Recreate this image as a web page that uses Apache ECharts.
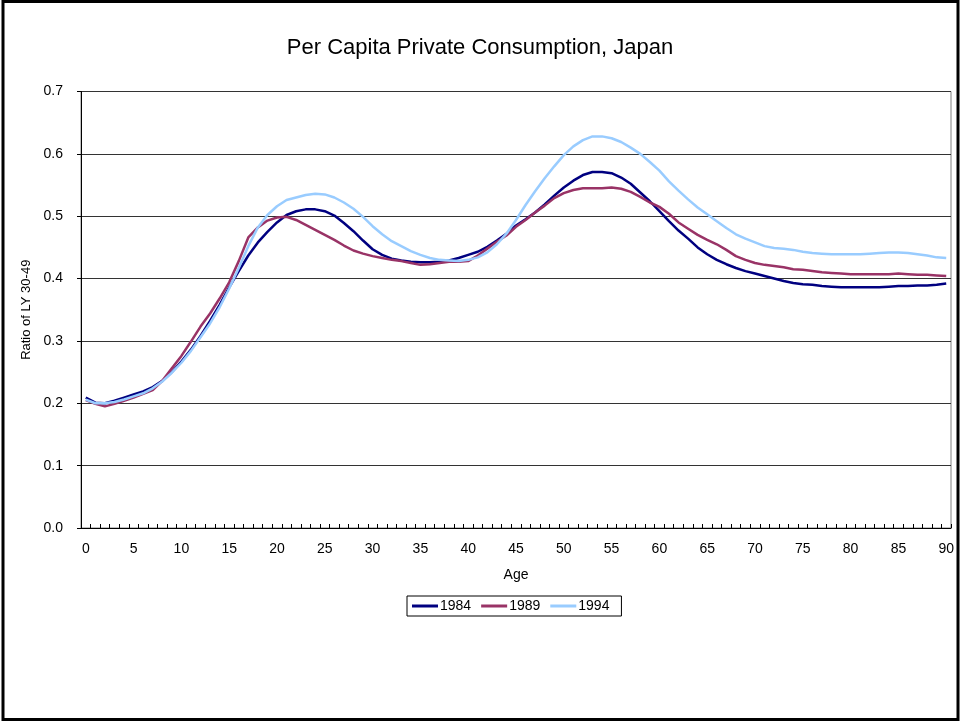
<!DOCTYPE html>
<html>
<head>
<meta charset="utf-8">
<script src="https://cdn.jsdelivr.net/npm/echarts@6/dist/echarts.min.js"></script>
<style>
  html, body { margin: 0; padding: 0; background: #fff; }
  #chart { width: 960px; height: 721px; }
</style>
</head>
<body>
<div id="chart"></div>
<script>
// Ages 0..90
const ages = Array.from({ length: 91 }, (_, i) => String(i));

// Per capita private consumption relative to the 30-49 age band
const y1984 = [
  0.209, 0.201, 0.200, 0.204, 0.209, 0.214, 0.219, 0.226, 0.236, 0.250,
  0.267, 0.286, 0.308, 0.332, 0.358, 0.386, 0.412, 0.437, 0.458, 0.475,
  0.490, 0.502, 0.508, 0.511, 0.511, 0.508, 0.501, 0.489, 0.476, 0.461,
  0.447, 0.438, 0.432, 0.429, 0.427, 0.426, 0.426, 0.427, 0.429, 0.433,
  0.438, 0.443, 0.451, 0.461, 0.472, 0.485, 0.495, 0.506, 0.519, 0.533,
  0.546, 0.557, 0.566, 0.571, 0.571, 0.569, 0.562, 0.552, 0.538, 0.524,
  0.508, 0.492, 0.477, 0.464, 0.450, 0.439, 0.430, 0.423, 0.417, 0.412,
  0.408, 0.404, 0.400, 0.396, 0.393, 0.391, 0.390, 0.388, 0.387, 0.386,
  0.386, 0.386, 0.386, 0.386, 0.387, 0.388, 0.388, 0.389, 0.389, 0.390,
  0.392
];
const y1989 = [
  0.205, 0.199, 0.195, 0.199, 0.204, 0.209, 0.215, 0.221, 0.236, 0.256,
  0.276, 0.299, 0.323, 0.344, 0.368, 0.394, 0.428, 0.466, 0.482, 0.493,
  0.498, 0.499, 0.494, 0.486, 0.478, 0.470, 0.462, 0.453, 0.445, 0.440,
  0.436, 0.433, 0.430, 0.428, 0.425, 0.422, 0.423, 0.425, 0.427, 0.427,
  0.428, 0.437, 0.448, 0.459, 0.469, 0.483, 0.494, 0.506, 0.517, 0.529,
  0.537, 0.542, 0.545, 0.545, 0.545, 0.546, 0.544, 0.539, 0.531, 0.522,
  0.515, 0.504, 0.490, 0.480, 0.470, 0.462, 0.455, 0.446, 0.436, 0.430,
  0.425, 0.422, 0.420, 0.418, 0.415, 0.414, 0.412, 0.410, 0.409, 0.408,
  0.407, 0.407, 0.407, 0.407, 0.407, 0.408, 0.407, 0.406, 0.406, 0.405,
  0.404
];
const y1994 = [
  0.206, 0.200, 0.200, 0.202, 0.206, 0.211, 0.216, 0.224, 0.235, 0.249,
  0.265, 0.284, 0.306, 0.328, 0.354, 0.384, 0.417, 0.452, 0.482, 0.502,
  0.516, 0.526, 0.530, 0.534, 0.536, 0.535, 0.530, 0.522, 0.512, 0.499,
  0.484, 0.471, 0.460, 0.452, 0.444, 0.438, 0.433, 0.430, 0.429, 0.428,
  0.430, 0.434, 0.442, 0.455, 0.472, 0.494, 0.518, 0.540, 0.561, 0.580,
  0.598, 0.612, 0.622, 0.628, 0.628, 0.625, 0.619, 0.610, 0.600, 0.587,
  0.573, 0.556, 0.541, 0.527, 0.514, 0.503, 0.492, 0.481, 0.471, 0.464,
  0.458, 0.452, 0.449, 0.448, 0.446, 0.443, 0.441, 0.440, 0.439, 0.439,
  0.439, 0.439, 0.440, 0.441, 0.442, 0.442, 0.441, 0.439, 0.437, 0.434,
  0.433
];

const seriesNames = ['1984', '1989', '1994'];
const seriesColors = ['#000080', '#993366', '#99CCFF'];
const seriesData = [y1984, y1989, y1994];

const FONT = 'Liberation Sans, Arial, sans-serif';
const chart = echarts.init(document.getElementById('chart'), null, { renderer: 'canvas' });

chart.setOption({
  animation: false,
  backgroundColor: '#ffffff',
  textStyle: { fontFamily: FONT, color: '#000' },
  title: {
    text: 'Per Capita Private Consumption, Japan',
    left: 'center',
    top: 32,
    textStyle: { fontFamily: FONT, fontSize: 22, fontWeight: 'normal', color: '#000' }
  },
  graphic: [{
    type: 'rect',
    shape: { x: 3, y: 1.5, width: 955, height: 718 },
    style: { fill: 'none', stroke: '#000', lineWidth: 3 },
    silent: true
  }],
  legend: {
    data: seriesNames,
    left: 407,
    top: 596,
    orient: 'horizontal',
    padding: [3, 12, 3, 5],
    itemGap: 10,
    itemWidth: 26,
    itemHeight: 3,
    icon: 'rect',
    borderColor: '#000',
    borderWidth: 1,
    textStyle: { fontFamily: FONT, fontSize: 14, color: '#000', padding: [0, 0, 0, -3] }
  },
  grid: {
    left: 81, right: 9, top: 91.5, bottom: 193,
    show: true,
    borderColor: '#808080',
    borderWidth: 1
  },
  xAxis: {
    type: 'category',
    data: ages,
    boundaryGap: true,
    name: 'Age',
    nameLocation: 'middle',
    nameGap: 40,
    nameTextStyle: { fontFamily: FONT, fontSize: 14, color: '#000' },
    axisLine: { show: true, lineStyle: { color: '#000', width: 1 } },
    axisTick: { show: true, inside: true, interval: 0, length: 4, lineStyle: { color: '#000' } },
    axisLabel: { interval: 4, margin: 14, fontFamily: FONT, fontSize: 14, color: '#000' },
    splitLine: { show: false }
  },
  yAxis: {
    type: 'value',
    min: 0,
    max: 0.7,
    interval: 0.1,
    name: 'Ratio of LY 30-49',
    nameLocation: 'middle',
    nameGap: 40,
    nameTextStyle: { fontFamily: FONT, fontSize: 13, color: '#000' },
    axisLine: { show: true, lineStyle: { color: '#000', width: 1 } },
    axisTick: { show: true, inside: false, length: 4, lineStyle: { color: '#000' } },
    axisLabel: {
      margin: 18,
      fontFamily: FONT,
      fontSize: 14,
      color: '#000',
      formatter: v => v.toFixed(1)
    },
    splitLine: { show: true, lineStyle: { color: '#333', width: 1 } }
  },
  series: seriesNames.map((name, i) => ({
    name,
    type: 'line',
    data: seriesData[i],
    showSymbol: false,
    symbol: 'none',
    smooth: false,
    lineStyle: { color: seriesColors[i], width: 2.5 },
    itemStyle: { color: seriesColors[i] },
    z: 3 + i
  }))
});
</script>
</body>
</html>
